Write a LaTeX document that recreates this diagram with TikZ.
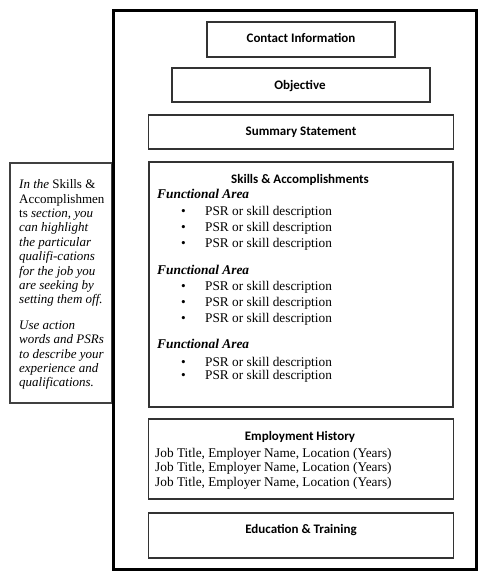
\documentclass[tikz,border=0pt]{standalone}
\usepackage{fontspec}
\setmainfont{Liberation Serif}
\newfontfamily\headfont{Carlito}
\usepackage{tikz}
\usetikzlibrary{positioning}
\tikzstyle{page} = [draw=black, line width=3pt, inner sep=0pt, outer sep=0pt, minimum width=363pt, minimum height=559pt]
\tikzstyle{note} = [draw=black!75, line width=1.3pt, inner sep=0pt, outer sep=0pt, minimum width=102pt, minimum height=240pt]
\tikzstyle{section} = [draw=black!80, line width=1.3pt, inner sep=0pt, outer sep=0pt, minimum width=305pt]
\tikzstyle{heading} = [inner sep=0pt, anchor=base, font=\headfont\bfseries\fontsize{13}{15}\selectfont]
\tikzstyle{area} = [inner sep=0pt, anchor=base west, font=\bfseries\itshape\fontsize{13.4}{15}\selectfont]
\tikzstyle{item} = [inner sep=0pt, anchor=base west, font=\fontsize{13.3}{15}\selectfont]
\tikzstyle{notetext} = [inner sep=0pt, anchor=north west, align=left, font=\itshape\fontsize{13}{14.4}\selectfont]
\newcommand{\bulletitem}{\makebox[24pt][l]{\textbullet}PSR or skill description}
\newcommand{\jobline}{Job Title, Employer Name, Location (Years)}

\begin{document}
\begin{tikzpicture}[x=1pt, y=-1pt]
\useasboundingbox (0,0) rectangle (488,581);

% side note ===============================
\node[note] (sidenote) at (61,283) {};
\node[notetext] (sidetext) at (19,179.5) {In the \textup{Skills \&}\\
\textup{Accomplishmen}\\
\textup{ts} section, you\\
can highlight\\
the particular\\
qualifi-cations\\
for the job you\\
are seeking by\\
setting them off.\\[11pt]
Use action\\
words and PSRs\\
to describe your\\
experience and\\
qualifications.};

% page and sections =======================
\node[page] (resume) at (294.5,289.5) {};
\node[section, minimum width=188pt, minimum height=35pt] (contact) at (301,39.5) {};
\node[section, minimum width=258pt, minimum height=34pt, below=11pt of contact] (objective) {};
\node[section, minimum height=34pt, below=13pt of objective] (summary) {};
\node[section, minimum width=304pt, minimum height=245pt, below=13pt of summary] (skills) {};
\node[section, minimum height=80pt, below=12pt of skills] (employment) {};
\node[section, minimum height=45pt, below=14pt of employment] (education) {};

% headings
\node[heading] (contacthead) at (301,42.5) {Contact Information};
\node[heading] (objectivehead) at (300,89.5) {Objective};
\node[heading] (summaryhead) at (301,135.5) {Summary Statement};
\node[heading] (skillshead) at (300,183.5) {Skills \& Accomplishments};
\node[heading] (employmenthead) at (300,440.5) {Employment History};
\node[heading] (educationhead) at (301,533.5) {Education \& Training};

% skills
\node[area] (area1) at (157,198.5) {Functional Area};
\node[item] (item11) at (181,215.5) {\bulletitem};
\node[item] (item12) at (181,231.5) {\bulletitem};
\node[item] (item13) at (181,247.5) {\bulletitem};
\node[area] (area2) at (157,274.5) {Functional Area};
\node[item] (item21) at (181,290.5) {\bulletitem};
\node[item] (item22) at (181,306.5) {\bulletitem};
\node[item] (item23) at (181,322.5) {\bulletitem};
\node[area] (area3) at (157,348.8) {Functional Area};
\node[item] (item31) at (181,366) {\bulletitem};
\node[item] (item32) at (181,379.5) {\bulletitem};

% jobs
\node[item] (job1) at (155,457.5) {\jobline};
\node[item] (job2) at (155,471.5) {\jobline};
\node[item] (job3) at (155,486.5) {\jobline};

\end{tikzpicture}
\end{document}
